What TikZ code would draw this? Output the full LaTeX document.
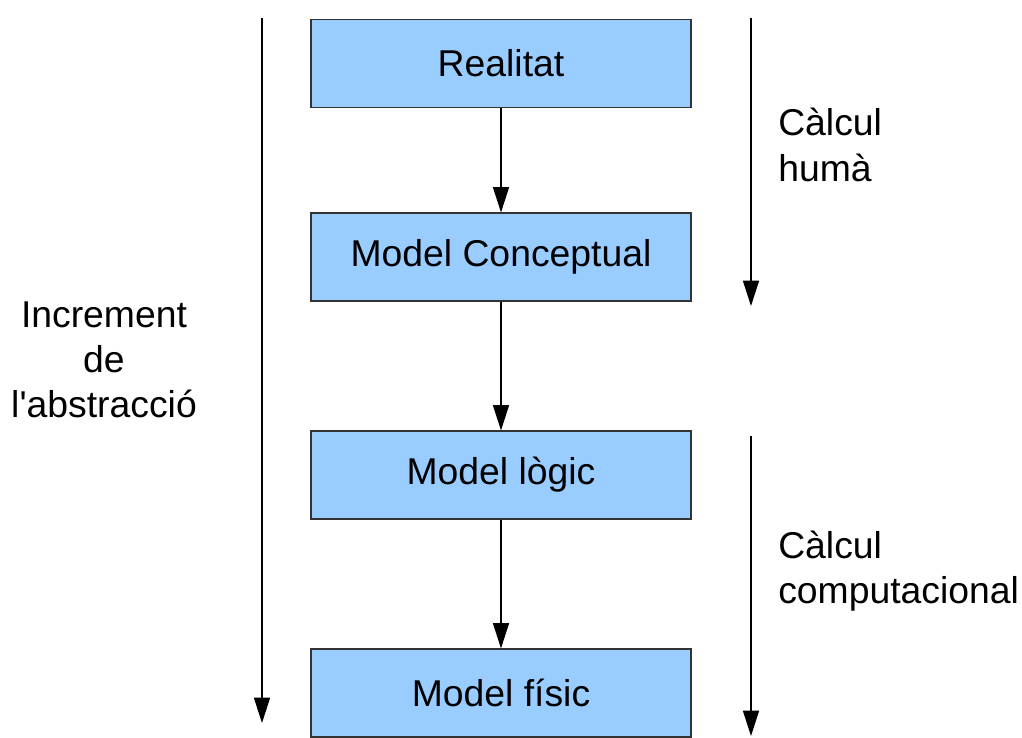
\documentclass[tikz,border=0pt]{standalone}
\usepackage{fontspec}
\setmainfont{Liberation Sans}
\usetikzlibrary{arrows.meta}
\definecolor{boxblue}{HTML}{99CCFF}
\begin{document}
\begin{tikzpicture}[x=0.75pt,y=-0.75pt,
  stepbox/.style={draw=black!80,line width=0.8pt,fill=boxblue,minimum width=285pt,minimum height=66pt,inner sep=0pt,font=\fontsize{28}{34}\selectfont},
  lbl/.style={font=\fontsize{28}{34}\selectfont,inner sep=0pt},
  conn/.style={draw=black,line width=1pt,-{Triangle[width=12pt,length=19pt]}}]
\useasboundingbox (0,0) rectangle (1022,738);
\node[stepbox] (r) at (501,63.5) {Realitat};
\node[stepbox] (c) at (501,257) {\raisebox{-2pt}{Model Conceptual}};
\node[stepbox] (l) at (501,475) {\raisebox{-2pt}{Model lògic}};
\node[stepbox] (f) at (501,693) {Model físic};
\draw[conn] (r) -- (c);
\draw[conn] (c) -- (l);
\draw[conn] (l) -- (f);
\coordinate (a1) at (262,18);
\coordinate (a2) at (262,723);
\coordinate (b1) at (751,18);
\coordinate (b2) at (751,306);
\coordinate (c1) at (751,436);
\coordinate (c2) at (751,736);
\draw[conn] (a1) -- (a2);
\draw[conn] (b1) -- (b2);
\draw[conn] (c1) -- (c2);
\node[lbl,align=center] (inc) at (104,360) {Increment\\de\\l\textquotesingle abstracció};
\node[lbl,align=left,anchor=west] (hum) at (778,145) {Càlcul\\humà};
\node[lbl,align=left,anchor=west] (comp) at (778,571) {Càlcul\\computacional};
\end{tikzpicture}
\end{document}
